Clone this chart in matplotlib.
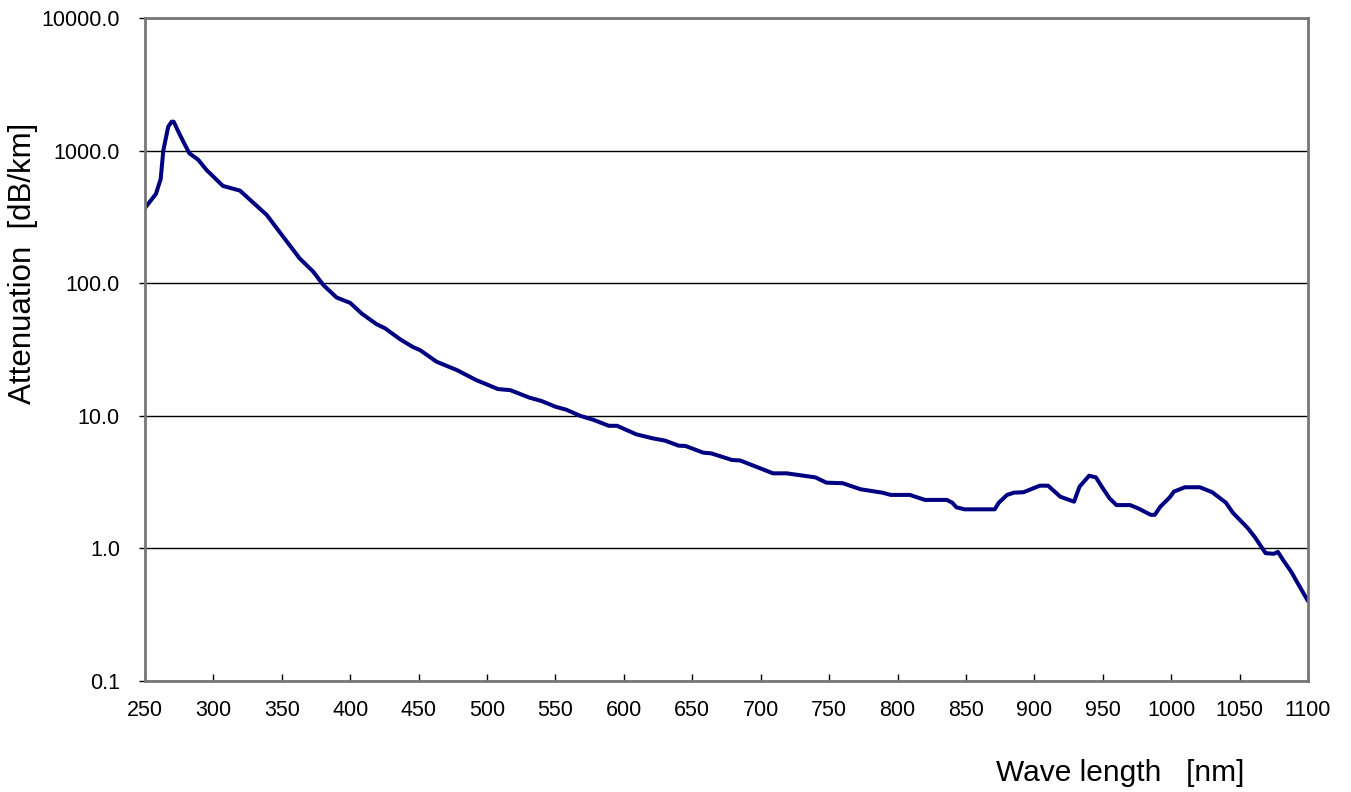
import numpy as np
import matplotlib
matplotlib.use("Agg")
import matplotlib.pyplot as plt
from matplotlib.ticker import FixedLocator, FormatStrFormatter, NullLocator

plt.rcParams['font.family'] = ['Liberation Sans', 'DejaVu Sans']

wavelength = [250, 258, 261.5, 263.4, 267, 269.5, 271, 274.4, 278, 282.4, 289, 295,
              307, 319.4, 339, 351, 363, 373, 380.3, 390, 400, 408.4, 419.3, 425.4,
              436.4, 446, 451, 463, 478, 492, 508, 517, 531, 540, 550, 558, 568, 578,
              589, 595, 609, 621, 630, 640, 645, 658, 664, 679, 685, 709, 719, 740,
              748, 760, 773, 789, 795, 809, 820, 836, 840, 843, 849, 871, 874, 880,
              885, 892, 904, 910, 919, 929, 933, 940, 945, 950, 955, 960, 970, 976,
              985, 988, 992, 999, 1002, 1010, 1021, 1030, 1040, 1045, 1056, 1061,
              1069, 1075, 1078, 1082, 1088, 1091, 1100]
attenuation = [369, 471, 611, 1000, 1514, 1652, 1650, 1390, 1170, 955, 851, 714,
               541, 499, 327, 224, 154, 122, 97, 78, 71, 59, 49, 45.7,
               37.8, 32.9, 31.3, 25.6, 22.1, 18.6, 15.9, 15.6, 13.7, 12.9, 11.7, 11.1, 10.0, 9.3,
               8.4, 8.4, 7.25, 6.76, 6.5, 5.95, 5.92, 5.27, 5.2, 4.64, 4.6, 3.68, 3.68, 3.43,
               3.13, 3.1, 2.79, 2.63, 2.53, 2.53, 2.32, 2.32, 2.21, 2.04, 1.97, 1.97, 2.21, 2.53,
               2.63, 2.65, 2.97, 2.97, 2.45, 2.25, 2.92, 3.53, 3.43, 2.84, 2.38, 2.12, 2.12, 2.0,
               1.79, 1.79, 2.06, 2.43, 2.68, 2.89, 2.89, 2.65, 2.21, 1.86, 1.42, 1.22,
               0.92, 0.91, 0.94, 0.81, 0.66, 0.58, 0.40]

x_ticks = np.arange(250, 1101, 50)
y_ticks = [0.1, 1, 10, 100, 1000, 10000]

fig = plt.figure(figsize=(13.51, 7.92), dpi=100)
ax = fig.add_axes([0.1073, 0.1402, 0.8609, 0.8371])

ax.plot(wavelength, attenuation, color='#000080', lw=2.9,
        solid_joinstyle='round', solid_capstyle='round')

ax.set_yscale('log')
ax.set_xlim(250, 1100)
ax.set_ylim(0.1, 10000)
ax.xaxis.set_major_locator(FixedLocator(x_ticks))
ax.yaxis.set_major_locator(FixedLocator(y_ticks))
ax.yaxis.set_minor_locator(NullLocator())
ax.yaxis.set_major_formatter(FormatStrFormatter('%.1f'))

ax.grid(axis='y', color='black', lw=1)
ax.set_axisbelow(True)

for s in ax.spines.values():
    s.set_color('#777777')
    s.set_linewidth(2)

ax.tick_params(axis='x', direction='in', length=5, width=1, labelsize=15.5, pad=14)
ax.tick_params(axis='y', direction='out', length=4, width=1, labelsize=15.5, pad=14)

fig.text(0.829, 0.024, 'Wave length   [nm]', fontsize=21.5, ha='center', va='center')
fig.text(0.017, 0.668, 'Attenuation  [dB/km]', fontsize=22.5, rotation=90,
         ha='center', va='center')

fig.savefig('out.png', dpi=100)
